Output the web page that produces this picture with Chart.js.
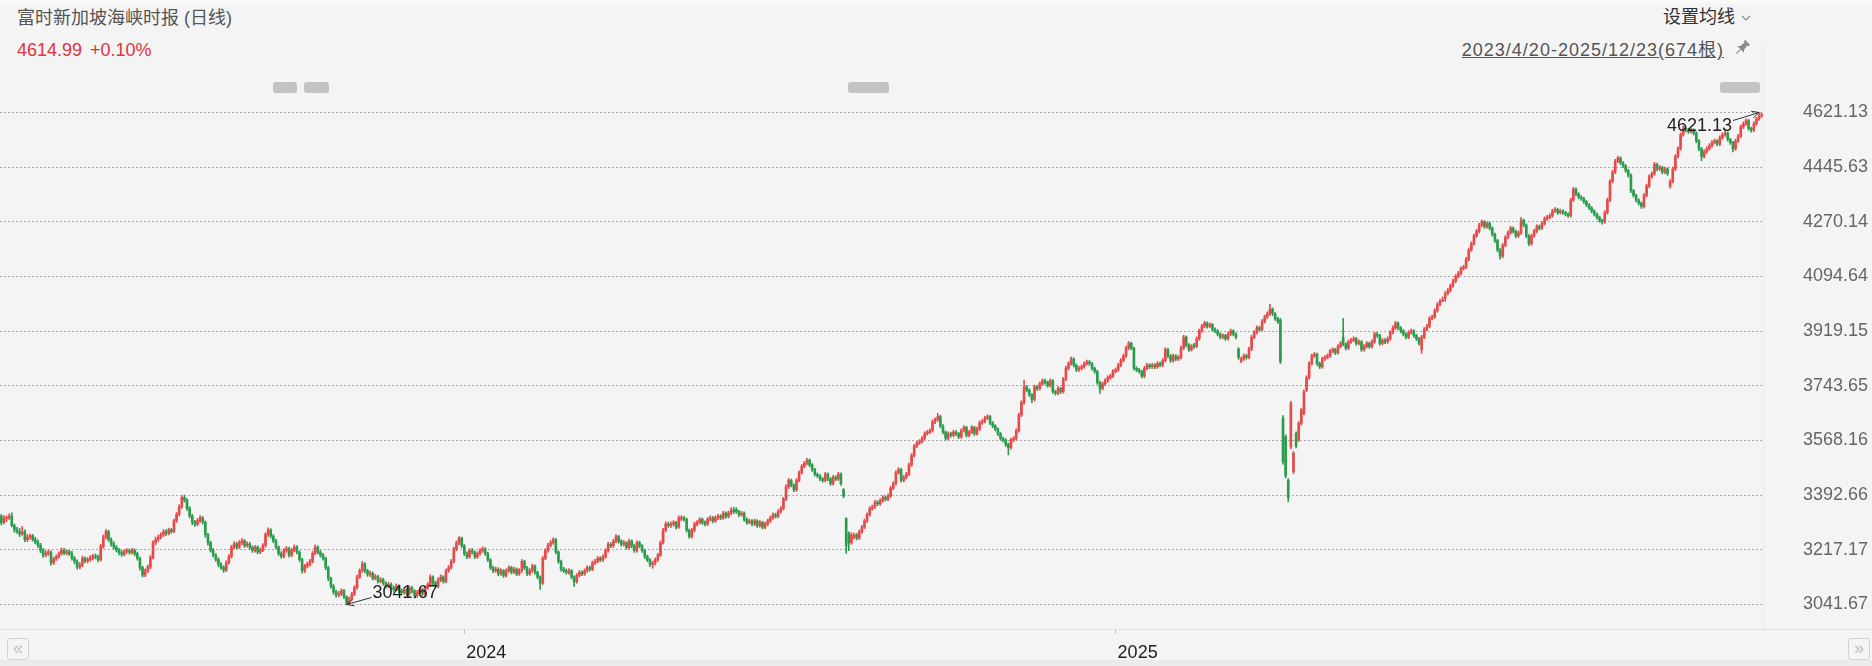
<!DOCTYPE html>
<html>
<head>
<meta charset="utf-8">
<script src="https://cdn.jsdelivr.net/npm/chart.js@4.4.1/dist/chart.umd.min.js"></script>
<style>
html, body { margin: 0; padding: 0; background: #f4f4f4; }
#wrap { position: relative; width: 1872px; height: 666px; overflow: hidden; background: #f4f4f4;
  font-family: 'Liberation Sans', 'Noto Sans CJK SC', sans-serif; }
#topline { position: absolute; left: 0; top: 0; width: 1872px; height: 3px; background: #fafafa; }
#title { position: absolute; left: 17px; top: 7px; font-size: 18px; line-height: 22px; color: #555; white-space: nowrap; }
#price { position: absolute; left: 17px; top: 39px; font-size: 18px; line-height: 22px; color: #e2323c; white-space: nowrap; }
#price span { margin-left: 8px; }
#ma { position: absolute; right: 137px; top: 6px; font-size: 18px; line-height: 22px; color: #333; white-space: nowrap; }
#chev { position: absolute; left: 1741px; top: 15px; }
#range { position: absolute; right: 148px; top: 39px; font-size: 18px; line-height: 22px; color: #555;
  text-decoration: underline; letter-spacing: 1px; white-space: nowrap; }
#pin { position: absolute; left: 1733px; top: 39px; }
.blob { position: absolute; top: 82px; height: 11px; background: #c3c3c3; border-radius: 3px; }
#sep { position: absolute; left: 0; top: 629px; width: 1872px; height: 1px; background: #e3e3e3; }
#vline { position: absolute; left: 1763px; top: 46px; width: 1px; height: 583px; background: #e8e8e8; }
#bottomband { position: absolute; left: 0; top: 660px; width: 1872px; height: 6px; background: #ebebeb; }
.btn { position: absolute; top: 638px; width: 20px; height: 20px; border: 1px solid #d2d2d2; border-radius: 3px;
  color: #c2c2c2; font-size: 18px; line-height: 19px; text-align: center; }
#cv { position: absolute; left: 0; top: 0; }
</style>
</head>
<body>
<div id="wrap">
  <div id="topline"></div>
  <div id="sep"></div>
  <div id="vline"></div>
  <div id="bottomband"></div>
  <div id="title">富时新加坡海峡时报 (日线)</div>
  <div id="price">4614.99<span>+0.10%</span></div>
  <div id="ma">设置均线</div>
  <svg id="chev" width="10" height="7" viewBox="0 0 10 7"><polyline points="1,1 5,5 9,1" fill="none" stroke="#888" stroke-width="1.2"/></svg>
  <div id="range">2023/4/20-2025/12/23(674根)</div>
  <svg id="pin" width="18" height="18" viewBox="0 0 18 18"><g transform="rotate(45 9 9)" fill="#8a8a8a"><rect x="5.5" y="1" width="7" height="2.2" rx="0.6"/><path d="M7 3 L11 3 L11.6 8.6 L13.8 11 L4.2 11 L6.4 8.6 Z"/><rect x="8.4" y="11" width="1.2" height="6"/></g></svg>
  <div class="blob" style="left:273px;width:24px"></div>
  <div class="blob" style="left:304px;width:25px"></div>
  <div class="blob" style="left:848px;width:41px"></div>
  <div class="blob" style="left:1720px;width:40px"></div>
  <div class="btn" style="left:7px">«</div>
  <div class="btn" style="left:1848px">»</div>
  <canvas id="cv" width="1872" height="666"></canvas>
</div>
<script>
// daily candles, 2023/4/20 .. 2025/12/23 (674 bars)
var closes = [
  3305,3318,3322,3325,3295,3282,3276,3268,3275,3250,
  3258,3262,3250,3242,3232,3215,3200,3206,3210,3176,
  3188,3195,3205,3216,3207,3211,3204,3190,3180,3162,
  3168,3190,3182,3186,3191,3196,3194,3185,3228,3258,
  3276,3250,3236,3225,3216,3208,3203,3212,3214,3209,
  3215,3205,3190,3160,3136,3150,3162,3192,3240,3250,
  3258,3266,3275,3270,3281,3276,3310,3331,3356,3385,
  3377,3350,3326,3306,3300,3311,3320,3306,3266,3240,
  3216,3200,3186,3170,3160,3152,3176,3196,3226,3236,
  3226,3240,3246,3231,3236,3225,3215,3226,3210,3216,
  3231,3266,3281,3261,3246,3226,3205,3196,3215,3221,
  3200,3216,3226,3210,3186,3150,3165,3171,3180,3206,
  3226,3210,3200,3190,3160,3125,3100,3082,3072,3076,
  3086,3066,3046,3060,3075,3096,3130,3150,3172,3150,
  3138,3142,3126,3131,3116,3121,3110,3100,3106,3095,
  3090,3101,3086,3080,3090,3076,3095,3085,3070,3080,
  3090,3076,3095,3106,3130,3111,3100,3121,3130,3116,
  3150,3160,3180,3220,3240,3255,3230,3205,3195,3215,
  3210,3195,3205,3215,3220,3205,3185,3160,3150,3155,
  3140,3150,3135,3150,3160,3146,3155,3140,3150,3180,
  3160,3140,3150,3165,3145,3130,3110,3190,3215,3232,
  3240,3250,3210,3180,3155,3150,3145,3150,3130,3115,
  3135,3145,3140,3150,3160,3155,3175,3180,3190,3185,
  3195,3215,3235,3230,3245,3260,3245,3235,3240,3225,
  3245,3230,3215,3240,3230,3215,3195,3185,3170,3175,
  3185,3200,3240,3280,3300,3295,3300,3305,3290,3320,
  3320,3315,3280,3260,3280,3300,3305,3315,3305,3300,
  3315,3320,3310,3320,3325,3320,3335,3325,3335,3345,
  3340,3340,3330,3335,3315,3305,3310,3300,3310,3295,
  3305,3290,3300,3310,3320,3330,3325,3340,3350,3380,
  3420,3440,3425,3410,3440,3465,3485,3495,3505,3490,
  3475,3460,3455,3445,3440,3460,3445,3430,3450,3445,
  3460,3430,3390,3230,3240,3265,3265,3255,3275,3290,
  3310,3330,3350,3355,3370,3365,3375,3385,3380,3390,
  3415,3430,3465,3475,3440,3450,3460,3490,3520,3550,
  3560,3565,3575,3590,3595,3600,3628,3635,3645,3615,
  3595,3575,3590,3585,3595,3590,3580,3600,3610,3585,
  3595,3610,3590,3605,3625,3630,3640,3645,3625,3615,
  3605,3590,3575,3570,3555,3545,3570,3575,3600,3650,
  3690,3740,3730,3715,3700,3740,3735,3750,3760,3755,
  3745,3760,3725,3720,3735,3725,3765,3800,3815,3830,
  3810,3795,3800,3805,3815,3820,3815,3800,3790,3755,
  3735,3750,3760,3770,3775,3790,3795,3810,3825,3840,
  3865,3880,3865,3800,3795,3790,3775,3800,3810,3805,
  3810,3805,3815,3810,3825,3860,3840,3825,3840,3830,
  3835,3865,3900,3875,3860,3870,3870,3895,3920,3935,
  3945,3935,3940,3925,3920,3910,3900,3905,3895,3910,
  3920,3910,3900,3835,3830,3840,3835,3862,3900,3915,
  3930,3925,3950,3965,3975,3990,3975,3960,3950,3822,
  3500,3455,3385,3688,3527,3550,3623,3666,3725,3770,
  3815,3840,3845,3815,3805,3830,3835,3840,3855,3860,
  3850,3870,3880,3878,3865,3885,3890,3895,3880,3885,
  3860,3870,3880,3870,3885,3910,3905,3880,3890,3885,
  3895,3915,3930,3945,3930,3920,3910,3900,3915,3920,
  3905,3895,3880,3900,3925,3935,3960,3965,3985,4005,
  4015,4020,4040,4050,4065,4080,4095,4105,4120,4125,
  4150,4180,4200,4225,4240,4260,4270,4255,4265,4250,
  4230,4210,4180,4160,4195,4220,4235,4250,4240,4225,
  4235,4275,4260,4225,4200,4225,4240,4255,4250,4265,
  4280,4285,4290,4305,4310,4300,4305,4300,4295,4290,
  4340,4375,4360,4350,4345,4335,4325,4315,4305,4295,
  4285,4275,4270,4300,4340,4400,4430,4465,4475,4460,
  4450,4435,4420,4370,4355,4340,4330,4320,4355,4385,
  4415,4425,4455,4440,4445,4430,4440,4425,4400,4440,
  4480,4505,4550,4570,4565,4560,4565,4555,4530,4505,
  4480,4495,4505,4515,4525,4530,4520,4540,4550,4555,
  4535,4525,4505,4530,4545,4575,4585,4595,4570,4565,
  4585,4600,4610.4,4614.99
];
var opens = [
  3325,3305,3318,3322,3325,3295,3282,3276,3268,3275,
  3250,3258,3262,3250,3242,3232,3215,3200,3206,3210,
  3176,3188,3195,3205,3216,3207,3211,3204,3190,3180,
  3162,3168,3190,3182,3186,3191,3196,3194,3185,3228,
  3258,3276,3250,3236,3225,3216,3208,3203,3212,3214,
  3209,3215,3205,3190,3160,3136,3150,3162,3192,3240,
  3250,3258,3266,3275,3270,3281,3276,3310,3331,3356,
  3385,3377,3350,3326,3306,3300,3311,3320,3306,3266,
  3240,3216,3200,3186,3170,3160,3152,3176,3196,3226,
  3236,3226,3240,3246,3231,3236,3225,3215,3226,3210,
  3216,3231,3266,3281,3261,3246,3226,3205,3196,3215,
  3221,3200,3216,3226,3210,3186,3150,3165,3171,3180,
  3206,3226,3210,3200,3190,3160,3125,3100,3082,3072,
  3076,3086,3066,3046,3060,3075,3096,3130,3150,3172,
  3150,3138,3142,3126,3131,3116,3121,3110,3100,3106,
  3095,3090,3101,3086,3080,3090,3076,3095,3085,3070,
  3080,3090,3076,3095,3106,3130,3111,3100,3121,3130,
  3116,3150,3160,3180,3220,3240,3255,3230,3205,3195,
  3215,3210,3195,3205,3215,3220,3205,3185,3160,3150,
  3155,3140,3150,3135,3150,3160,3146,3155,3140,3150,
  3180,3160,3140,3150,3165,3145,3130,3110,3190,3215,
  3232,3240,3250,3210,3180,3155,3150,3145,3150,3130,
  3115,3135,3145,3140,3150,3160,3155,3175,3180,3190,
  3185,3195,3215,3235,3230,3245,3260,3245,3235,3240,
  3225,3245,3230,3215,3240,3230,3215,3195,3185,3170,
  3175,3185,3200,3240,3280,3300,3295,3300,3305,3290,
  3316,3320,3315,3280,3260,3280,3300,3305,3315,3305,
  3300,3315,3320,3310,3320,3325,3320,3335,3325,3335,
  3345,3346,3340,3330,3335,3315,3305,3310,3300,3310,
  3295,3305,3290,3300,3310,3320,3330,3325,3340,3350,
  3380,3420,3440,3425,3410,3440,3465,3485,3495,3505,
  3490,3475,3460,3455,3445,3440,3460,3445,3430,3450,
  3445,3460,3410,3318,3270,3240,3258,3265,3255,3275,
  3290,3310,3330,3350,3355,3370,3365,3375,3385,3380,
  3390,3415,3430,3465,3475,3440,3450,3460,3490,3520,
  3550,3560,3565,3575,3590,3595,3600,3628,3635,3645,
  3615,3595,3575,3590,3585,3595,3590,3580,3600,3610,
  3585,3595,3610,3590,3605,3625,3630,3640,3645,3625,
  3615,3605,3590,3575,3570,3555,3545,3570,3575,3600,
  3650,3690,3740,3730,3715,3700,3740,3735,3750,3760,
  3755,3745,3760,3725,3720,3735,3725,3765,3800,3815,
  3830,3810,3795,3800,3805,3815,3820,3815,3800,3790,
  3755,3735,3750,3760,3770,3775,3790,3795,3810,3825,
  3840,3865,3880,3865,3800,3795,3790,3775,3800,3810,
  3805,3810,3805,3815,3810,3825,3860,3840,3825,3840,
  3830,3835,3865,3900,3875,3860,3876,3870,3895,3920,
  3935,3945,3935,3940,3925,3920,3910,3900,3905,3895,
  3910,3920,3910,3862,3822,3830,3840,3835,3862,3900,
  3915,3930,3925,3950,3965,3975,3990,3975,3960,3955,
  3640,3580,3441,3548,3468,3591,3570,3623,3655,3730,
  3770,3815,3840,3845,3815,3805,3830,3835,3840,3855,
  3860,3850,3870,3900,3878,3865,3885,3890,3895,3880,
  3885,3860,3870,3880,3870,3885,3910,3905,3880,3890,
  3885,3895,3915,3930,3945,3930,3920,3910,3900,3915,
  3920,3905,3895,3860,3900,3925,3935,3960,3965,3985,
  4005,4015,4025,4040,4050,4065,4080,4095,4105,4120,
  4125,4150,4180,4200,4225,4240,4260,4270,4255,4265,
  4250,4230,4210,4180,4160,4195,4220,4235,4250,4240,
  4225,4235,4275,4260,4225,4200,4225,4240,4255,4250,
  4265,4280,4285,4290,4305,4310,4300,4305,4300,4295,
  4290,4340,4375,4360,4350,4345,4335,4325,4315,4305,
  4295,4285,4275,4270,4300,4340,4400,4430,4465,4475,
  4460,4450,4435,4420,4370,4355,4340,4330,4320,4355,
  4385,4415,4425,4455,4440,4445,4430,4440,4385,4400,
  4440,4480,4505,4550,4570,4565,4560,4565,4555,4530,
  4505,4480,4495,4505,4515,4525,4530,4520,4540,4550,
  4555,4535,4525,4505,4530,4545,4575,4585,4595,4570,
  4565,4585,4600,4611
];
var highs = [
  3331,3327,3326,3333,3336,3300,3289,3286,3292,3281,
  3266,3268,3267,3258,3249,3238,3222,3214,3217,3214,
  3194,3201,3211,3223,3222,3217,3216,3212,3196,3185,
  3176,3197,3195,3193,3199,3203,3204,3200,3235,3265,
  3282,3280,3256,3243,3231,3222,3215,3218,3221,3220,
  3222,3220,3210,3194,3165,3156,3168,3199,3246,3258,
  3265,3272,3282,3282,3287,3286,3316,3337,3362,3391,
  3393,3382,3356,3331,3312,3318,3327,3324,3310,3270,
  3245,3222,3205,3192,3176,3166,3182,3202,3232,3243,
  3242,3247,3253,3250,3243,3241,3230,3232,3230,3223,
  3237,3272,3288,3285,3266,3251,3230,3211,3221,3228,
  3226,3222,3233,3231,3214,3190,3171,3178,3187,3212,
  3233,3230,3215,3206,3194,3164,3130,3106,3088,3084,
  3092,3090,3070,3066,3081,3102,3136,3156,3180,3176,
  3155,3149,3146,3138,3135,3128,3126,3115,3113,3111,
  3101,3108,3105,3092,3097,3094,3101,3100,3089,3087,
  3096,3094,3101,3112,3137,3134,3116,3127,3137,3134,
  3156,3167,3186,3226,3246,3260,3258,3234,3211,3221,
  3221,3214,3211,3221,3227,3224,3209,3189,3165,3162,
  3160,3157,3154,3156,3166,3164,3162,3159,3157,3186,
  3184,3164,3157,3171,3169,3149,3134,3196,3221,3238,
  3247,3256,3254,3214,3184,3161,3156,3157,3154,3134,
  3141,3151,3150,3156,3166,3165,3181,3187,3196,3195,
  3201,3221,3241,3240,3251,3266,3264,3250,3247,3244,
  3252,3249,3235,3246,3245,3234,3219,3200,3189,3181,
  3191,3206,3246,3286,3307,3306,3307,3311,3309,3326,
  3327,3325,3319,3284,3286,3306,3311,3321,3319,3310,
  3321,3326,3324,3326,3331,3330,3341,3339,3341,3352,
  3354,3352,3344,3341,3339,3320,3316,3314,3316,3314,
  3311,3309,3306,3316,3326,3336,3335,3346,3356,3386,
  3426,3446,3444,3429,3446,3471,3491,3501,3511,3509,
  3494,3479,3464,3459,3449,3466,3464,3449,3456,3455,
  3466,3464,3414,3320,3275,3272,3271,3270,3281,3296,
  3316,3336,3356,3361,3376,3375,3381,3391,3390,3396,
  3421,3436,3471,3481,3479,3456,3466,3496,3526,3556,
  3566,3571,3581,3596,3601,3606,3634,3641,3655,3649,
  3619,3599,3596,3595,3601,3600,3594,3606,3616,3614,
  3601,3616,3614,3611,3631,3636,3646,3651,3649,3629,
  3619,3609,3594,3579,3574,3560,3576,3581,3606,3656,
  3696,3762,3745,3734,3719,3746,3745,3756,3766,3765,
  3759,3766,3764,3730,3741,3739,3771,3806,3821,3836,
  3834,3814,3806,3811,3821,3826,3825,3819,3804,3794,
  3759,3756,3766,3776,3781,3796,3801,3816,3831,3846,
  3871,3886,3884,3868,3805,3800,3794,3806,3816,3815,
  3816,3815,3821,3820,3831,3866,3864,3844,3846,3844,
  3841,3871,3906,3904,3879,3876,3880,3901,3926,3941,
  3951,3949,3946,3944,3930,3924,3914,3911,3909,3916,
  3926,3924,3914,3866,3836,3846,3845,3868,3906,3921,
  3936,3935,3956,3971,3981,4005,3994,3979,3964,3960,
  3648,3586,3446,3694,3533,3596,3629,3672,3731,3776,
  3821,3846,3851,3849,3820,3836,3841,3846,3861,3866,
  3864,3876,3886,3960,3882,3891,3896,3901,3899,3891,
  3889,3876,3886,3884,3891,3916,3915,3909,3896,3895,
  3901,3921,3936,3951,3949,3934,3924,3914,3921,3926,
  3924,3909,3899,3906,3931,3941,3966,3971,3991,4011,
  4021,4029,4046,4056,4071,4086,4101,4111,4126,4131,
  4156,4186,4206,4231,4246,4266,4276,4274,4271,4269,
  4254,4234,4214,4184,4201,4226,4241,4256,4254,4244,
  4241,4285,4279,4264,4229,4231,4246,4261,4260,4271,
  4286,4291,4296,4311,4316,4314,4311,4309,4304,4299,
  4346,4381,4379,4364,4354,4349,4339,4329,4319,4309,
  4299,4289,4279,4306,4346,4406,4436,4471,4481,4479,
  4464,4454,4439,4424,4374,4359,4344,4334,4361,4391,
  4421,4431,4461,4459,4451,4449,4446,4444,4406,4446,
  4486,4511,4556,4578,4575,4570,4571,4569,4559,4534,
  4509,4501,4511,4521,4531,4536,4534,4546,4556,4561,
  4559,4539,4529,4536,4551,4581,4591,4601,4599,4574,
  4591,4606,4621.13,4619
];
var lows = [
  3297,3300,3308,3315,3291,3273,3270,3260,3264,3243,
  3244,3251,3245,3236,3225,3208,3193,3195,3199,3168,
  3170,3183,3190,3200,3202,3201,3199,3184,3172,3155,
  3156,3163,3176,3175,3180,3185,3188,3178,3181,3222,
  3252,3244,3229,3219,3210,3201,3196,3198,3206,3203,
  3203,3198,3184,3152,3130,3131,3144,3157,3188,3233,
  3244,3252,3260,3263,3265,3270,3272,3305,3326,3350,
  3370,3344,3320,3298,3292,3294,3305,3300,3258,3232,
  3210,3194,3180,3163,3154,3145,3147,3171,3191,3220,
  3220,3221,3234,3225,3226,3219,3209,3210,3204,3205,
  3211,3226,3260,3255,3240,3220,3199,3190,3191,3209,
  3194,3195,3211,3204,3180,3142,3144,3159,3165,3175,
  3201,3204,3194,3184,3153,3118,3094,3075,3065,3066,
  3070,3060,3041.67,3043,3055,3070,3091,3125,3145,3144,
  3132,3132,3120,3121,3110,3111,3104,3094,3095,3089,
  3084,3085,3080,3074,3075,3070,3071,3079,3063,3065,
  3075,3070,3071,3090,3101,3105,3094,3095,3115,3110,
  3111,3145,3155,3175,3214,3234,3224,3199,3189,3190,
  3204,3189,3190,3200,3209,3199,3179,3154,3144,3145,
  3134,3135,3129,3130,3145,3140,3141,3134,3135,3145,
  3154,3134,3135,3145,3139,3124,3090,3106,3185,3210,
  3227,3235,3204,3174,3149,3144,3139,3139,3124,3100,
  3110,3130,3134,3135,3145,3149,3150,3170,3175,3179,
  3180,3190,3210,3224,3225,3240,3239,3229,3230,3219,
  3220,3224,3209,3210,3224,3209,3189,3179,3163,3158,
  3168,3180,3196,3235,3275,3289,3289,3294,3284,3286,
  3311,3309,3274,3254,3255,3275,3294,3300,3299,3294,
  3295,3310,3304,3305,3314,3314,3315,3319,3320,3330,
  3334,3334,3324,3325,3309,3299,3300,3294,3295,3289,
  3290,3284,3285,3295,3305,3315,3319,3320,3335,3345,
  3375,3414,3419,3404,3405,3435,3460,3480,3490,3484,
  3469,3454,3449,3439,3434,3435,3439,3424,3425,3439,
  3440,3424,3384,3206,3215,3235,3252,3249,3250,3270,
  3285,3305,3325,3345,3350,3359,3360,3370,3374,3375,
  3385,3410,3425,3460,3434,3435,3445,3455,3485,3515,
  3545,3555,3560,3570,3585,3590,3595,3622,3630,3609,
  3589,3569,3570,3579,3580,3584,3574,3575,3595,3579,
  3580,3590,3584,3585,3600,3620,3625,3635,3619,3609,
  3599,3584,3569,3564,3549,3522,3540,3565,3570,3595,
  3645,3685,3724,3709,3690,3695,3729,3730,3745,3749,
  3739,3740,3719,3714,3715,3719,3720,3760,3795,3810,
  3804,3789,3790,3795,3800,3810,3809,3794,3784,3749,
  3719,3730,3745,3755,3765,3770,3785,3790,3805,3820,
  3835,3860,3859,3794,3789,3784,3769,3770,3795,3799,
  3799,3799,3800,3804,3805,3820,3834,3819,3820,3824,
  3825,3830,3860,3869,3854,3855,3864,3866,3890,3915,
  3930,3929,3930,3919,3914,3904,3894,3895,3889,3890,
  3905,3904,3894,3829,3818,3825,3829,3830,3857,3895,
  3910,3919,3920,3945,3960,3970,3969,3954,3944,3815,
  3492,3448,3372,3542,3462,3544,3565,3618,3650,3725,
  3765,3810,3835,3809,3799,3800,3825,3830,3835,3850,
  3844,3845,3865,3872,3859,3860,3880,3885,3874,3875,
  3854,3855,3865,3864,3865,3880,3899,3874,3875,3879,
  3880,3890,3910,3925,3924,3914,3904,3894,3895,3910,
  3899,3889,3874,3848,3895,3920,3930,3955,3960,3980,
  4000,4014,4015,4035,4045,4060,4075,4090,4100,4115,
  4120,4145,4175,4195,4220,4235,4255,4249,4250,4244,
  4224,4204,4174,4150,4155,4190,4215,4230,4234,4219,
  4220,4230,4254,4219,4194,4195,4220,4235,4244,4245,
  4260,4275,4280,4285,4300,4294,4295,4294,4289,4284,
  4285,4335,4354,4344,4339,4329,4319,4309,4299,4289,
  4279,4269,4263,4265,4295,4335,4395,4425,4460,4454,
  4444,4429,4414,4364,4349,4334,4324,4313,4315,4350,
  4380,4410,4420,4434,4435,4424,4425,4419,4378,4395,
  4435,4475,4500,4545,4559,4554,4555,4549,4524,4499,
  4466,4475,4490,4500,4510,4520,4514,4515,4535,4545,
  4529,4519,4495,4500,4525,4540,4570,4580,4564,4558,
  4560,4580,4596,4605
];

// axis ticks
var priceTicks = [3041.67, 3217.17, 3392.66, 3568.16, 3743.65, 3919.15, 4094.64, 4270.14, 4445.63, 4621.13];
var yearStarts = [177, 426];
var yearLabels = ['2024', '2025'];

var upColor = '#e64a4a';
var downColor = '#2a9d4c';

Chart.defaults.font.family = "'Liberation Sans', 'Noto Sans CJK SC', sans-serif";

var colors = closes.map(function(c, i) { return c >= opens[i] ? upColor : downColor; });
var labels = closes.map(function(c, i) { return i; });

var hiIdx = 0, loIdx = 0;
for (var i = 0; i < highs.length; i++) {
  if (highs[i] > highs[hiIdx]) hiIdx = i;
  if (lows[i] < lows[loIdx]) loIdx = i;
}

// max / min labels with arrows
var extremeMarks = {
  id: 'extremeMarks',
  afterDatasetsDraw: function(chart) {
    var ctx = chart.ctx, x = chart.scales.x, y = chart.scales.y;
    function arrow(tx, ty, sx, sy) {
      ctx.beginPath(); ctx.moveTo(sx, sy); ctx.lineTo(tx, ty); ctx.stroke();
      var a = Math.atan2(ty - sy, tx - sx);
      ctx.beginPath();
      ctx.moveTo(tx - 8 * Math.cos(a - 0.45), ty - 8 * Math.sin(a - 0.45));
      ctx.lineTo(tx, ty);
      ctx.lineTo(tx - 8 * Math.cos(a + 0.45), ty - 8 * Math.sin(a + 0.45));
      ctx.stroke();
    }
    ctx.save();
    ctx.strokeStyle = '#333';
    ctx.fillStyle = '#222';
    ctx.lineWidth = 1;
    ctx.font = "18px 'Liberation Sans', sans-serif";
    ctx.textBaseline = 'middle';

    var tx = x.getPixelForValue(loIdx), ty = y.getPixelForValue(lows[loIdx]);
    arrow(tx, ty, tx + 25, ty - 7);
    ctx.textAlign = 'left';
    ctx.fillText(lows[loIdx].toFixed(2), tx + 26, ty - 11);

    tx = x.getPixelForValue(hiIdx); ty = y.getPixelForValue(highs[hiIdx]);
    arrow(tx, ty, tx - 26, ty + 8);
    ctx.textAlign = 'right';
    ctx.fillText(highs[hiIdx].toFixed(2), tx - 27, ty + 14);
    ctx.restore();
  }
};

new Chart(document.getElementById('cv'), {
  type: 'bar',
  data: {
    labels: labels,
    datasets: [
      {
        // bodies
        data: closes.map(function(c, i) { return [opens[i], c]; }),
        backgroundColor: colors,
        barThickness: 2,
        minBarLength: 1,
        grouped: false
      },
      {
        // wicks
        data: closes.map(function(c, i) { return [lows[i], highs[i]]; }),
        backgroundColor: colors,
        barThickness: 1,
        grouped: false
      }
    ]
  },
  options: {
    responsive: false,
    animation: false,
    devicePixelRatio: 1,
    events: [],
    layout: { padding: { top: 100, right: 4, left: 0, bottom: 0 } },
    plugins: { legend: { display: false }, tooltip: { enabled: false } },
    scales: {
      x: {
        offset: true,
        grid: { drawOnChartArea: false, drawTicks: true, tickLength: 5, color: '#c4c4c4', offset: false },
        border: { display: false },
        ticks: {
          autoSkip: false, maxRotation: 0, align: 'start', labelOffset: 2, padding: 8,
          color: '#222', font: { size: 18 },
          callback: function(v, i) { return yearLabels[i]; }
        },
        afterBuildTicks: function(s) { s.ticks = yearStarts.map(function(v) { return { value: v }; }); },
        afterFit: function(s) { s.height = 37; }
      },
      y: {
        position: 'right',
        min: 2963,
        max: 4661.3,
        grid: { color: '#aaaaaa', drawTicks: false },
        border: { display: false, dash: [2, 2] },
        ticks: {
          color: '#666', font: { size: 18 }, crossAlign: 'far',
          callback: function(v) { return Number(v).toFixed(2); }
        },
        afterBuildTicks: function(s) { s.ticks = priceTicks.map(function(v) { return { value: v }; }); },
        afterFit: function(s) { s.width = 105; }
      }
    }
  },
  plugins: [extremeMarks]
});
</script>
</body>
</html>
